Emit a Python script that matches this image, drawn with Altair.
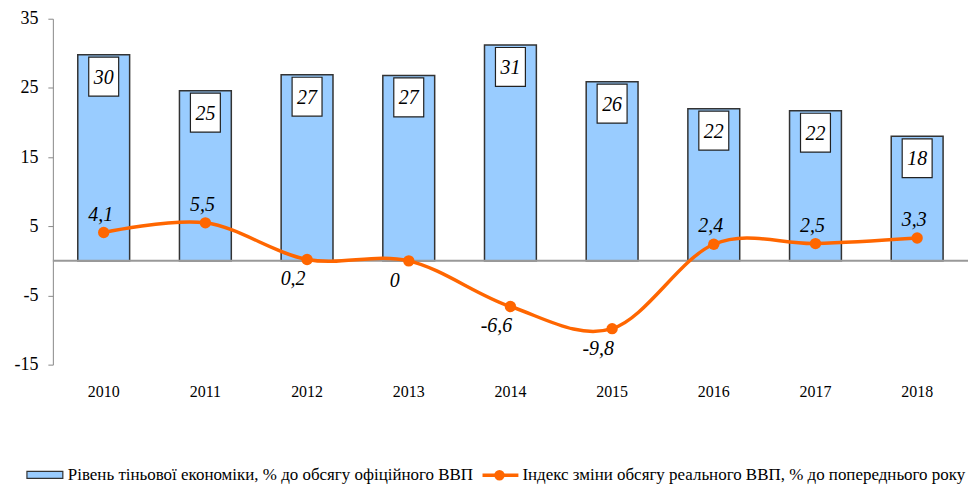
import altair as alt
import pandas as pd

years = ["2010", "2011", "2012", "2013", "2014", "2015", "2016", "2017", "2018"]
shadow_level = [29.8, 24.6, 26.9, 26.8, 31.2, 25.9, 22.0, 21.7, 18.0]
shadow_labels = [30, 25, 27, 27, 31, 26, 22, 22, 18]
gdp_index = [4.1, 5.5, 0.2, 0.0, -6.6, -9.8, 2.4, 2.5, 3.3]
gdp_label_side = ["above", "above", "below", "below", "below", "below", "above", "above", "above"]

bar_name = "Рівень тіньової економіки, % до обсягу офіційного ВВП"
line_name = "Індекс зміни обсягу реального ВВП, % до попереднього року"

df = pd.DataFrame({
    "year": years,
    "shadow": shadow_level,
    "shadow_label": [str(v) for v in shadow_labels],
    "gdp": gdp_index,
    "gdp_label": [f"{v:g}".replace(".", ",") for v in gdp_index],
    "side": gdp_label_side,
})

FONT = "Liberation Serif"
BLUE = "#99CCFF"
ORANGE = "#FF6600"

x_enc = alt.X("year:N", sort=years, title=None,
              scale=alt.Scale(paddingInner=0.49, paddingOuter=0.245),
              axis=alt.Axis(domain=False, ticks=False, tickSize=0, labelAngle=0,
                            labelFont=FONT, labelFontSize=16, labelColor="black",
                            labelPadding=19))
y_scale = alt.Scale(domain=[-15, 35], nice=False, zero=False)
y_axis = alt.Axis(values=[-15, -5, 5, 15, 25, 35], grid=False, domainColor="#888888",
                  tickColor="#888888", tickSize=5, labelFont=FONT, labelFontSize=18,
                  labelColor="black", labelPadding=10, title=None,
                  labelExpr="'' + datum.value")

base = alt.Chart(df)

bars = base.mark_bar(fill=BLUE, stroke="#333333", strokeWidth=1.5).encode(
    x=x_enc,
    y=alt.Y("shadow:Q", scale=y_scale, axis=y_axis),
)

box_path = "M-0.77,-1H0.77V1H-0.77Z"
boxes = base.mark_point(shape=box_path, size=1521, filled=True, fill="white",
                        stroke="#222222", strokeWidth=1.2, opacity=1, yOffset=22).encode(
    x=alt.X("year:N", sort=years),
    y=alt.Y("shadow:Q", scale=y_scale),
)

box_text = base.mark_text(font=FONT, fontSize=20, fontStyle="italic", color="black",
                          baseline="middle", dy=23).encode(
    x=alt.X("year:N", sort=years),
    y=alt.Y("shadow:Q", scale=y_scale),
    text="shadow_label:N",
)

zero_rule = alt.Chart(pd.DataFrame({"z": [0]})).mark_rule(color="#999999", strokeWidth=2).encode(
    y=alt.Y("z:Q", scale=y_scale),
)

line = base.mark_line(color=ORANGE, strokeWidth=3.5, interpolate="cardinal").encode(
    x=alt.X("year:N", sort=years),
    y=alt.Y("gdp:Q", scale=y_scale),
)
pts = base.mark_circle(color=ORANGE, size=130, opacity=1).encode(
    x=alt.X("year:N", sort=years),
    y=alt.Y("gdp:Q", scale=y_scale),
)

above = base.transform_filter(alt.datum.side == "above").mark_text(
    font=FONT, fontSize=20, fontStyle="italic", color="black", baseline="bottom", dy=-8, dx=-3
).encode(x=alt.X("year:N", sort=years), y=alt.Y("gdp:Q", scale=y_scale), text="gdp_label:N")

below = base.transform_filter(alt.datum.side == "below").mark_text(
    font=FONT, fontSize=20, fontStyle="italic", color="black", baseline="top", dy=10, dx=-14
).encode(x=alt.X("year:N", sort=years), y=alt.Y("gdp:Q", scale=y_scale), text="gdp_label:N")

leg = alt.Chart(pd.DataFrame({"k": [1]}))
leg_rect = leg.mark_rect(fill=BLUE, stroke="#333333", strokeWidth=1.2).encode(
    x=alt.value(-26), x2=alt.value(10), y=alt.value(454), y2=alt.value(461))
leg_text1 = leg.mark_text(font=FONT, fontSize=17, color="black", align="left",
                          baseline="middle").encode(
    x=alt.value(15), y=alt.value(458), text=alt.value(bar_name))
leg_line = leg.mark_rule(color=ORANGE, strokeWidth=3.5).encode(
    x=alt.value(431), x2=alt.value(467), y=alt.value(458))
leg_dot = leg.mark_circle(color=ORANGE, size=110, opacity=1).encode(
    x=alt.value(448), y=alt.value(458))
leg_text2 = leg.mark_text(font=FONT, fontSize=17, color="black", align="left",
                          baseline="middle").encode(
    x=alt.value(471), y=alt.value(458), text=alt.value(line_name))

chart = alt.layer(
    bars, zero_rule, boxes, box_text, line, pts, above, below,
    leg_rect, leg_text1, leg_line, leg_dot, leg_text2
).properties(
    width=918, height=347,
    autosize=alt.AutoSizeParams(type="none"),
    padding={"left": 45, "top": 10, "right": 0, "bottom": 125},
).configure_view(stroke=None)

chart.save("out.html", embed_options={"renderer": "svg", "actions": False})
